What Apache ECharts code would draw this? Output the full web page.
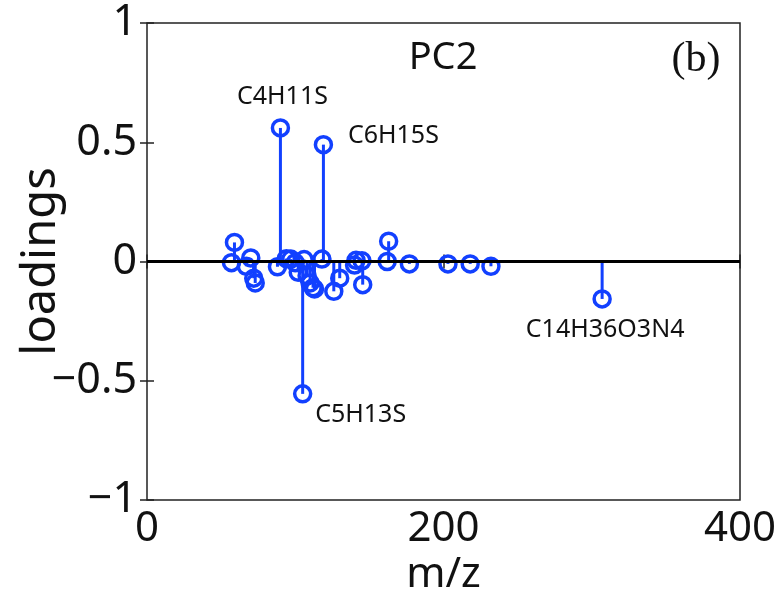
<!DOCTYPE html>
<html>
<head>
<meta charset="utf-8">
<script src="https://cdn.jsdelivr.net/npm/echarts@6/dist/echarts.min.js"></script>
<style>
html, body { margin: 0; padding: 0; background: #fff; }
#chart { width: 779px; height: 602px; }
</style>
</head>
<body>
<div id="chart"></div>
<script>
// m/z of each ion and its PC2 loading
const mz = [57, 59, 67, 70, 72, 73, 88, 90, 94, 97, 100, 102, 105, 106, 108, 110, 112, 113,
            118, 119, 126, 130, 140, 141, 145, 145.5, 162, 163, 177, 203, 218, 232, 307];
const loadings = [-0.005, 0.08, -0.02, 0.015, -0.07, -0.09, -0.022, 0.56, 0.012, 0.01, -0.005, -0.045,
                  -0.555, 0.008, -0.06, -0.09, -0.11, -0.115, 0.01, 0.49, -0.125, -0.07, -0.015, 0.005,
                  0.003, -0.097, 0.0, 0.085, -0.01, -0.01, -0.01, -0.02, -0.157];
// ion names for the labelled peaks
const ionNames = ['', '', '', '', '', '', '', 'C4H11S', '', '', '', '',
                  'C5H13S', '', '', '', '', '', '', 'C6H15S', '', '', '', '',
                  '', '', '', '', '', '', '', '', 'C14H36O3N4'];
const xTicks = [0, 200, 400];
const yTicks = [-1, -0.5, 0, 0.5, 1];

const FONT = 'Noto Sans';
const BLUE = '#1240ff';
// where each ion label sits relative to its marker
const labelOffsets = {
    'C4H11S': [2, -31],
    'C6H15S': [70, -9],
    'C5H13S': [58, 21],
    'C14H36O3N4': [3, 31]
};

const myChart = echarts.init(document.getElementById('chart'));

const points = mz.map((x, i) => {
    const item = { value: [x, loadings[i]], name: ionNames[i] };
    if (ionNames[i]) {
        item.label = {
            show: true,
            position: 'inside',
            offset: labelOffsets[ionNames[i]],
            formatter: '{b}',
            color: '#111',
            fontFamily: FONT,
            fontSize: 25
        };
    }
    return item;
});

const fmtY = v => (v < 0 ? '\u2212' + Math.abs(v) : String(v));

const hiddenAxis = {
    axisLine: { show: false },
    axisLabel: { show: false },
    splitLine: { show: false },
    axisTick: { show: true, inside: true, length: 7, lineStyle: { color: '#222', width: 1.5 } }
};

const option = {
    animation: false,
    backgroundColor: '#fff',
    title: [
        {
            text: 'PC2', left: 443, top: 36, textAlign: 'center', padding: 0,
            textStyle: { fontFamily: FONT, fontSize: 38, fontWeight: 'normal', color: '#111', lineHeight: 44 }
        },
        {
            text: '(b)', left: 696, top: 37, textAlign: 'center', padding: 0,
            textStyle: { fontFamily: 'Liberation Serif', fontSize: 42, fontWeight: 'normal', color: '#111', lineHeight: 46 }
        }
    ],
    grid: {
        left: 147, right: 39, top: 23, bottom: 102,
        outerBoundsMode: 'none',
        show: true, borderColor: '#222', borderWidth: 1.5, backgroundColor: '#fff'
    },
    xAxis: [
        {
            type: 'value', min: xTicks[0], max: xTicks[xTicks.length - 1], interval: 200,
            position: 'bottom',
            name: 'm/z', nameLocation: 'middle', nameGap: 54, nameMoveOverlap: false,
            nameTextStyle: { fontFamily: FONT, fontSize: 42, color: '#111' },
            axisLine: { show: false },
            splitLine: { show: false },
            axisTick: { show: true, inside: true, length: 7, lineStyle: { color: '#222', width: 1.5 } },
            axisLabel: { fontFamily: FONT, fontSize: 42, color: '#111', margin: 8 }
        },
        Object.assign({ type: 'value', min: 0, max: 400, interval: 200, position: 'top' }, hiddenAxis)
    ],
    yAxis: [
        {
            type: 'value', min: yTicks[0], max: yTicks[yTicks.length - 1], interval: 0.5,
            position: 'left',
            name: 'loadings', nameLocation: 'middle', nameGap: 82, nameMoveOverlap: false,
            nameTextStyle: { fontFamily: FONT, fontSize: 47, color: '#111' },
            axisLine: { show: false },
            splitLine: { show: false },
            axisTick: { show: true, inside: true, length: 7, lineStyle: { color: '#222', width: 1.5 } },
            axisLabel: { fontFamily: FONT, fontSize: 43, color: '#111', margin: 10, formatter: fmtY }
        },
        Object.assign({ type: 'value', min: -1, max: 1, interval: 0.5, position: 'right' }, hiddenAxis)
    ],
    series: [
        {
            // stems from the baseline to each loading
            type: 'custom',
            name: 'stems',
            silent: true,
            z: 2,
            data: mz.map((x, i) => [x, loadings[i]]),
            renderItem: (params, api) => {
                const top = api.coord([api.value(0), api.value(1)]);
                const base = api.coord([api.value(0), 0]);
                return {
                    type: 'line',
                    shape: { x1: base[0], y1: base[1], x2: top[0], y2: top[1] },
                    style: { stroke: BLUE, lineWidth: 3 }
                };
            }
        },
        {
            type: 'scatter',
            name: 'PC2',
            z: 3,
            symbol: 'circle',
            symbolSize: 16,
            itemStyle: { color: 'rgba(0,0,0,0)', borderColor: BLUE, borderWidth: 3.5, opacity: 1 },
            data: points,
            markLine: {
                silent: true,
                symbol: ['none', 'none'],
                label: { show: false },
                lineStyle: { color: '#000', width: 3, type: 'solid' },
                data: [{ yAxis: 0 }]
            }
        }
    ]
};

myChart.setOption(option);
window.onresize = function () {
    myChart && myChart.resize();
};
</script>
</body>
</html>
